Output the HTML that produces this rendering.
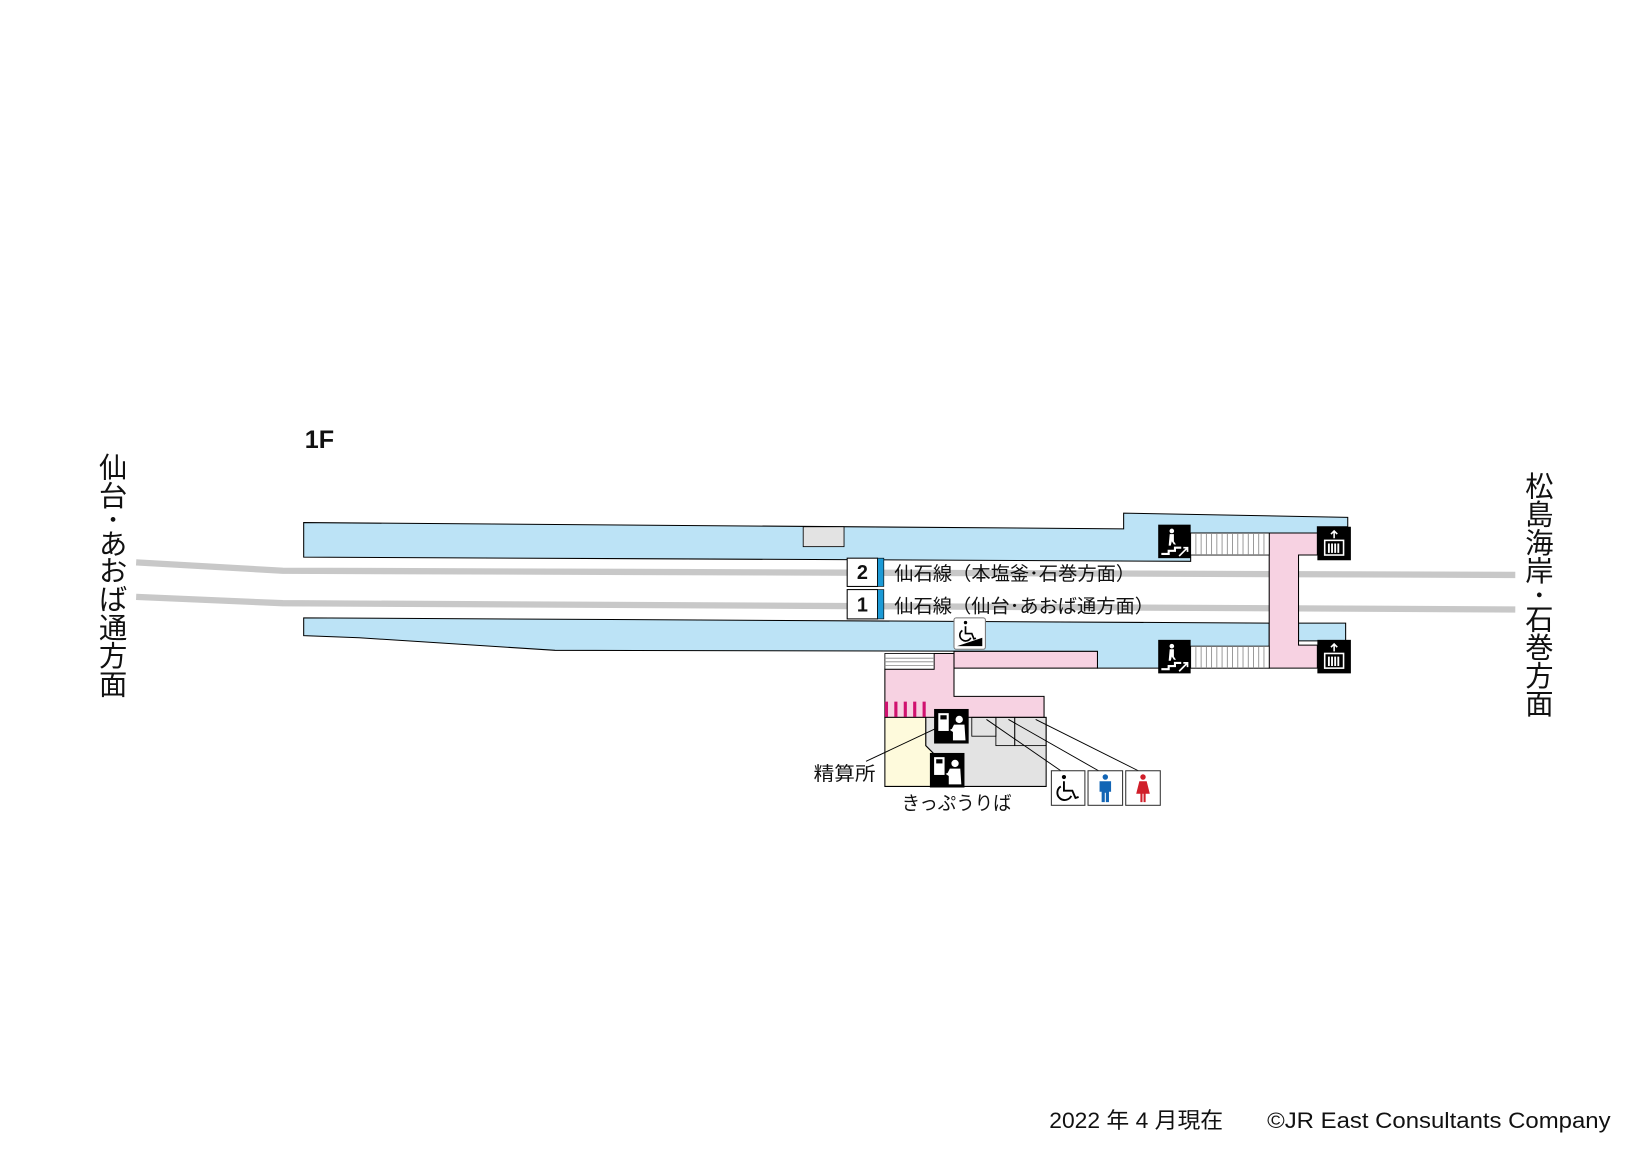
<!DOCTYPE html>
<html><head><meta charset="utf-8"><style>
html,body{margin:0;padding:0;background:#fff;}
svg{display:block;}
text{font-family:"Liberation Sans","Noto Sans CJK JP",sans-serif;fill:#111;}
</style></head><body>
<svg width="1642" height="1162" viewBox="0 0 1568 1109.6" xmlns="http://www.w3.org/2000/svg">
<defs>
<g id="stair">
<rect x="0" y="0" width="31" height="32" fill="#000"/>
<circle cx="13" cy="6" r="2.2" fill="#fff"/>
<path d="M11 9 L15 9 L15 16 L17 19 L15 19 L13 16 L12 20 L10 20 Z" fill="#fff"/>
<path d="M3 27 L9 27 L9 24 L15 24 L15 21 L22 21 L22 23 L17 23 L17 26 L11 26 L11 29 L3 29 Z" fill="#fff"/>
<path d="M20 30 L28 22 M24 22 L28 22 L28 26" stroke="#fff" stroke-width="1.6" fill="none"/>
</g>
<g id="elev">
<rect x="0" y="0" width="32" height="32" fill="#000"/>
<path d="M16 4 L16 11 M13 7 L16 4 L19 7" stroke="#fff" stroke-width="1.5" fill="none"/>
<rect x="7" y="13" width="18" height="14" fill="none" stroke="#fff" stroke-width="1.5"/>
<path d="M11 16 L11 25 M14 16 L14 25 M17 16 L17 25 M20 16 L20 25" stroke="#fff" stroke-width="1.8"/>
</g>
<g id="tick">
<rect x="0" y="0" width="33" height="33" fill="#000"/>
<rect x="4" y="4" width="10" height="17" fill="#fff"/>
<rect x="6" y="6" width="6" height="4" fill="#000"/>
<circle cx="24" cy="10" r="3.5" fill="#fff"/>
<path d="M17 19 L19 15 L29 15 L30 30 L18 30 L18 22 L15 20 Z" fill="#fff"/>
</g>
</defs>

<!-- tracks -->
<polyline points="130,537 270,545 1447,549" fill="none" stroke="#c8c8c8" stroke-width="6"/>
<polyline points="130,570 270,576 1447,582" fill="none" stroke="#c8c8c8" stroke-width="6"/>

<!-- top platform -->
<polygon points="290,499 1073,505 1073,490 1287,494 1287,503 1258,503 1258,509 1137,509 1137,536 290,532" fill="#bce3f6" stroke="#000" stroke-width="1"/>
<rect x="767" y="503" width="39" height="19" fill="#e3e3e3" stroke="#000" stroke-width="0.8"/>

<!-- bottom platform -->
<polygon points="290,590 1212,595 1212,638 1048,638 1048,622 530,621 343,609 290,607" fill="#bce3f6" stroke="#000" stroke-width="1"/>
<polygon points="1240,595 1285,595 1285,612 1240,612" fill="#bce3f6" stroke="#000" stroke-width="1"/>
<rect x="911" y="622" width="137" height="16" fill="#f7d2e2" stroke="#000" stroke-width="1"/>

<!-- pink overpass -->
<polygon points="1212,509 1258,509 1258,530 1240,530 1240,616 1258,616 1258,638 1212,638" fill="#f7d2e2" stroke="#000" stroke-width="1"/>
<!-- stair hatches -->
<rect x="1137" y="509" width="75" height="21" fill="#fff" stroke="#000" stroke-width="0.8"/>
<rect x="1137" y="617" width="75" height="21" fill="#fff" stroke="#000" stroke-width="0.8"/>
<g stroke="#888" stroke-width="0.8">
<path d="M1142 509v21M1147 509v21M1152 509v21M1157 509v21M1162 509v21M1167 509v21M1172 509v21M1177 509v21M1182 509v21M1187 509v21M1192 509v21M1197 509v21M1202 509v21M1207 509v21"/>
<path d="M1142 617v21M1147 617v21M1152 617v21M1157 617v21M1162 617v21M1167 617v21M1172 617v21M1177 617v21M1182 617v21M1187 617v21M1192 617v21M1197 617v21M1202 617v21M1207 617v21"/>
</g>
<use href="#stair" x="1106" y="501"/>
<use href="#stair" x="1106" y="611"/>
<use href="#elev" x="1258" y="503"/>
<use href="#elev" x="1258" y="611"/>

<!-- concourse -->
<polygon points="845,639 892,639 892,624 911,624 911,665 997,665 997,685 845,685" fill="#f7d2e2" stroke="#000" stroke-width="1"/>
<rect x="845" y="624" width="47" height="15" fill="#fff" stroke="#000" stroke-width="0.8"/>
<path d="M845 628.5h47M845 632h47M845 635.5h47" stroke="#888" stroke-width="0.8"/>
<g fill="#d0126f"><rect x="845" y="670" width="3" height="15"/><rect x="854" y="670" width="3" height="15"/><rect x="863" y="670" width="3" height="15"/><rect x="872" y="670" width="3" height="15"/><rect x="881" y="670" width="3" height="15"/></g>
<polygon points="884,685 999,685 999,751 891,751 891,719 884,712" fill="#e3e3e3" stroke="#000" stroke-width="1"/>
<polygon points="845,685 884,685 884,712 891,719 891,751 845,751" fill="#fefadc" stroke="#000" stroke-width="1"/>
<rect x="928" y="685" width="23" height="18" fill="none" stroke="#000" stroke-width="0.8"/>
<rect x="951" y="685" width="18" height="27" fill="none" stroke="#000" stroke-width="0.8"/>
<rect x="969" y="685" width="30" height="27" fill="none" stroke="#000" stroke-width="0.8"/>
<use href="#tick" x="892" y="677"/>
<use href="#tick" x="888" y="719"/>

<!-- leader lines -->
<g stroke="#000" stroke-width="0.9">
<line x1="893" y1="696" x2="827" y2="727"/>
<line x1="942" y1="687" x2="1013" y2="736"/>
<line x1="963" y1="687" x2="1049" y2="736"/>
<line x1="989" y1="687" x2="1087" y2="736"/>
</g>

<!-- toilet icons -->
<rect x="1004" y="736" width="32" height="33" fill="#fff" stroke="#333" stroke-width="1"/>
<g transform="translate(1004,736)" fill="none" stroke="#000" stroke-width="1.8">
<circle cx="12" cy="6" r="2" fill="#000" stroke="none"/>
<path d="M12 10 L12 19 L20 19 L23 26 L26 25"/>
<path d="M9 15 A7 7 0 1 0 19 24"/>
</g>
<rect x="1039" y="736" width="33" height="33" fill="#fff" stroke="#333" stroke-width="1"/>
<g fill="#1265b5"><circle cx="1055.5" cy="742" r="2.6"/><path d="M1050 746 L1061 746 L1061 756 L1059 756 L1059 766 L1056 766 L1056 757 L1055 757 L1055 766 L1052 766 L1052 756 L1050 756 Z"/></g>
<rect x="1075" y="736" width="33" height="33" fill="#fff" stroke="#333" stroke-width="1"/>
<g fill="#d01f2a"><circle cx="1091.5" cy="742" r="2.6"/><path d="M1088 746 L1095 746 L1098 758 L1094 758 L1094 766 L1092 766 L1092 758 L1091 758 L1091 766 L1089 766 L1089 758 L1085 758 Z"/></g>

<!-- wheelchair ramp icon -->
<rect x="911" y="590" width="30" height="30" rx="2" fill="#fff" stroke="#777" stroke-width="1"/>
<g transform="translate(911,590)" fill="none" stroke="#000" stroke-width="1.6">
<circle cx="11" cy="4.5" r="1.6" fill="#000" stroke="none"/>
<path d="M11 8 L11 15 L17 15 L19 20 L21 19.5"/>
<path d="M8 12 A5.5 5.5 0 1 0 16 19"/>
</g>
<polygon points="914,617 938,617 938,609" fill="#000"/>

<!-- track labels -->
<rect x="809" y="533" width="29" height="27" fill="#fff" stroke="#000" stroke-width="1"/>
<rect x="838" y="533" width="6" height="27" fill="#1c9ad6" stroke="#000" stroke-width="0.6"/>
<text x="823.5" y="553" font-size="19" font-weight="bold" text-anchor="middle">2</text>
<rect x="809" y="563" width="29" height="28" fill="#fff" stroke="#000" stroke-width="1"/>
<rect x="838" y="563" width="6" height="28" fill="#1c9ad6" stroke="#000" stroke-width="0.6"/>
<text x="823.5" y="584" font-size="19" font-weight="bold" text-anchor="middle">1</text>
<text x="854" y="554" font-size="18" textLength="230" lengthAdjust="spacingAndGlyphs">仙石線（本塩釜･石巻方面）</text>
<text x="854" y="585" font-size="18" textLength="248" lengthAdjust="spacingAndGlyphs">仙石線（仙台･あおば通方面）</text>

<text x="291" y="428" font-size="24" font-weight="bold">1F</text>

<text x="777" y="745" font-size="18" textLength="59" lengthAdjust="spacingAndGlyphs">精算所</text>
<text x="861" y="773" font-size="18" textLength="105" lengthAdjust="spacingAndGlyphs">きっぷうりば</text>

<!-- vertical direction labels -->
<g font-size="27" text-anchor="middle">
<text x="108" y="456">仙</text><text x="108" y="483">台</text><text x="108" y="506">･</text><text x="108" y="529">あ</text><text x="108" y="555">お</text><text x="108" y="582">ば</text><text x="108" y="609">通</text><text x="108" y="636">方</text><text x="108" y="663">面</text>
<text x="1470" y="474">松</text><text x="1470" y="501">島</text><text x="1470" y="528">海</text><text x="1470" y="555">岸</text><text x="1470" y="578">･</text><text x="1470" y="601">石</text><text x="1470" y="628">巻</text><text x="1470" y="655">方</text><text x="1470" y="682">面</text>
</g>

<text x="1002" y="1077" font-size="21" textLength="166" lengthAdjust="spacingAndGlyphs">2022 年 4 月現在</text>
<text x="1210" y="1077" font-size="21" textLength="328" lengthAdjust="spacingAndGlyphs">©JR East Consultants Company</text>
</svg>
</body></html>
